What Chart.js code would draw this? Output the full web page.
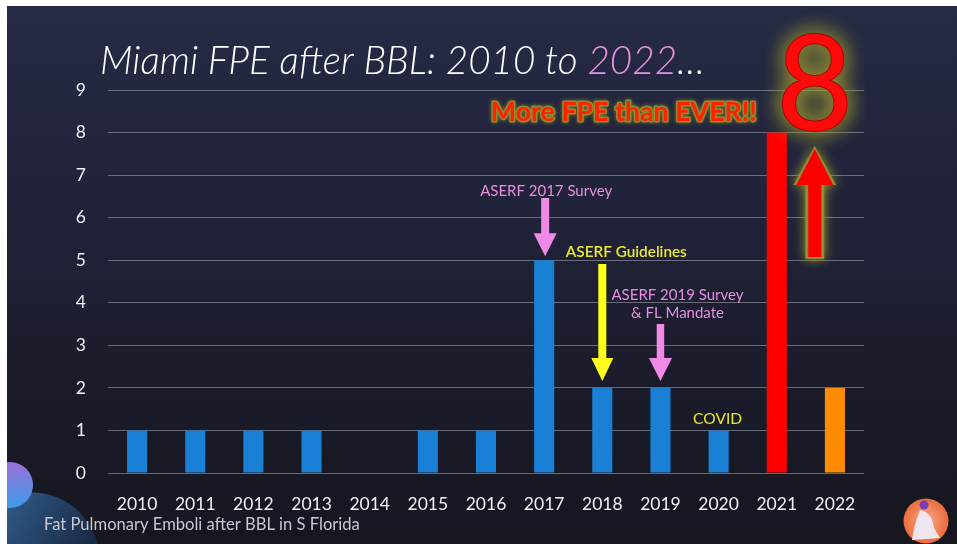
<!DOCTYPE html>
<html lang="en">
<head>
<meta charset="UTF-8">
<title>Miami FPE after BBL: 2010 to 2022</title>
<script src="https://cdn.jsdelivr.net/npm/chart.js"></script>
<style>
  html, body { margin: 0; padding: 0; background: #fff; overflow: hidden; }
  canvas { display: block; }
</style>
</head>
<body>
<canvas id="canvas_fpe" width="957" height="544"></canvas>
<script>
// dados
const anos = ['2010', '2011', '2012', '2013', '2014', '2015', '2016', '2017', '2018', '2019', '2020', '2021', '2022'];
const casos = [1, 1, 1, 1, 0, 1, 1, 5, 2, 2, 1, 8, 2];
const ticksY = [0, 1, 2, 3, 4, 5, 6, 7, 8, 9];

const AZUL = '#1a80d6';
const ROSA = '#f08ae6';
const AMARELO = '#ffff1a';

function corBarra(ctx) {
    const ano = anos[ctx.dataIndex];
    if (ano === '2021') return '#ff0000';
    if (ano === '2022') return '#ff8c00';
    return AZUL;
}

// escreve texto ajustando o tamanho da fonte para caber numa largura
function fonteAjustada(ctx, texto, estilo, familia, tamanho, largura) {
    ctx.font = `${estilo} ${tamanho}px ${familia}`;
    const w = ctx.measureText(texto).width;
    const t = tamanho * largura / w;
    return `${estilo} ${t.toFixed(2)}px ${familia}`;
}

function seta(ctx, x, yBase, yPonta, haste, cabeca, alturaCabeca) {
    const dir = yPonta > yBase ? 1 : -1;
    const yCab = yPonta - dir * alturaCabeca;
    ctx.beginPath();
    ctx.moveTo(x - haste / 2, yBase);
    ctx.lineTo(x + haste / 2, yBase);
    ctx.lineTo(x + haste / 2, yCab);
    ctx.lineTo(x + cabeca / 2, yCab);
    ctx.lineTo(x, yPonta);
    ctx.lineTo(x - cabeca / 2, yCab);
    ctx.lineTo(x - haste / 2, yCab);
    ctx.closePath();
    ctx.fill();
}

const fundo = {
    id: 'fundo',
    beforeDraw(chart) {
        const ctx = chart.ctx;
        ctx.save();
        ctx.fillStyle = '#ffffff';
        ctx.fillRect(0, 0, 957, 544);
        const g = ctx.createLinearGradient(0, 6, 0, 544);
        g.addColorStop(0, '#262a45');
        g.addColorStop(0.45, '#1f2136');
        g.addColorStop(1, '#15161e');
        ctx.fillStyle = g;
        ctx.fillRect(7, 6, 950, 538);

        // forma decorativa canto inferior esquerdo
        ctx.beginPath();
        ctx.rect(7, 6, 950, 538);
        ctx.clip();
        const gb = ctx.createLinearGradient(7, 495, 90, 544);
        gb.addColorStop(0, '#2f5a88');
        gb.addColorStop(1, '#1b2a45');
        ctx.fillStyle = gb;
        ctx.beginPath();
        ctx.moveTo(7, 494);
        ctx.bezierCurveTo(55, 486, 85, 505, 98, 544);
        ctx.lineTo(7, 544);
        ctx.closePath();
        ctx.fill();
        const gc = ctx.createLinearGradient(0, 462, 0, 508);
        gc.addColorStop(0, '#9a6fd8');
        gc.addColorStop(1, '#3c9ce8');
        ctx.fillStyle = gc;
        ctx.beginPath();
        ctx.arc(10, 485, 23, 0, Math.PI * 2);
        ctx.fill();

        // logo canto inferior direito
        const gl = ctx.createRadialGradient(926, 521, 4, 926, 521, 23);
        gl.addColorStop(0, '#f4a080');
        gl.addColorStop(1, '#ec6a38');
        ctx.fillStyle = gl;
        ctx.beginPath();
        ctx.arc(926, 521, 22.5, 0, Math.PI * 2);
        ctx.fill();
        ctx.fillStyle = '#f0e6f0';
        ctx.beginPath();
        ctx.moveTo(920, 510);
        ctx.quadraticCurveTo(932, 512, 934, 528);
        ctx.lineTo(940, 538);
        ctx.lineTo(912, 540);
        ctx.quadraticCurveTo(914, 525, 920, 510);
        ctx.fill();
        ctx.fillStyle = '#7a3fb8';
        ctx.beginPath();
        ctx.arc(924, 505, 4.5, 0, Math.PI * 2);
        ctx.fill();
        ctx.restore();
    }
};

const anotacoes = {
    id: 'anotacoes',
    afterDraw(chart) {
        const ctx = chart.ctx;
        const sx = chart.scales.x;
        const sy = chart.scales.y;
        const xAno = a => sx.getPixelForValue(anos.indexOf(a));
        ctx.save();
        ctx.textBaseline = 'alphabetic';

        // título
        const t1 = 'Miami FPE after BBL: 2010 to ';
        const t2 = '2022';
        const t3 = '…';
        ctx.font = fonteAjustada(ctx, t1 + t2 + t3, 'italic 300', 'Lato', 36, 605);
        ctx.textAlign = 'left';
        let x = 100;
        ctx.fillStyle = '#ffffff';
        ctx.fillText(t1, x, 74);
        x += ctx.measureText(t1).width;
        ctx.fillStyle = '#e592dc';
        ctx.fillText(t2, x, 74);
        x += ctx.measureText(t2).width;
        ctx.fillStyle = '#ffffff';
        ctx.fillText(t3, x, 74);

        // rodapé
        ctx.font = fonteAjustada(ctx, 'Fat Pulmonary Emboli after BBL in S Florida', '400', 'Lato', 15, 316);
        ctx.fillStyle = '#c8c8d0';
        ctx.fillText('Fat Pulmonary Emboli after BBL in S Florida', 44, 530);

        // ASERF 2017 Survey
        const x17 = xAno('2017');
        ctx.textAlign = 'center';
        ctx.font = fonteAjustada(ctx, 'ASERF 2017 Survey', '400', 'Lato', 15, 132);
        ctx.fillStyle = '#e68ee0';
        ctx.fillText('ASERF 2017 Survey', x17 + 2, 196);
        ctx.fillStyle = ROSA;
        seta(ctx, x17 + 1, 198, sy.getPixelForValue(5) - 4, 8, 23, 23);

        // ASERF Guidelines
        const x18 = xAno('2018');
        ctx.font = fonteAjustada(ctx, 'ASERF Guidelines', '600', 'Lato', 15, 121);
        ctx.fillStyle = '#eaea30';
        ctx.fillText('ASERF Guidelines', x18 + 24, 257);
        ctx.fillStyle = AMARELO;
        seta(ctx, x18, 264, sy.getPixelForValue(2) - 7, 8, 22, 23);

        // ASERF 2019 Survey & FL Mandate
        const x19 = xAno('2019');
        ctx.font = fonteAjustada(ctx, 'ASERF 2019 Survey', '400', 'Lato', 15, 132);
        ctx.fillStyle = '#e68ee0';
        ctx.fillText('ASERF 2019 Survey', x19 + 17, 300);
        ctx.fillText('& FL Mandate', x19 + 17, 318);
        ctx.fillStyle = ROSA;
        seta(ctx, x19, 324, sy.getPixelForValue(2) - 7, 7.5, 23, 23);

        // COVID
        const x20 = xAno('2020');
        ctx.font = fonteAjustada(ctx, 'COVID', '400', 'Lato', 15, 49);
        ctx.fillStyle = '#e6e633';
        ctx.fillText('COVID', x20 - 1, 424);

        // More FPE than EVER!!
        const x21 = xAno('2021');
        ctx.font = fonteAjustada(ctx, 'More FPE than EVER!!', '700', 'Lato', 26, 266);
        ctx.textAlign = 'center';
        ctx.lineJoin = 'round';
        ctx.shadowColor = 'rgba(140,140,40,0.8)';
        ctx.shadowBlur = 4;
        ctx.strokeStyle = '#8e8c30';
        ctx.lineWidth = 3;
        ctx.strokeText('More FPE than EVER!!', x21 - 153, 121);
        ctx.shadowBlur = 0;
        ctx.fillStyle = '#ff2200';
        ctx.fillText('More FPE than EVER!!', x21 - 153, 121);

        // 8 grande com brilho
        const x8 = x21 + 38;
        ctx.font = '400 132px Lato';
        ctx.shadowColor = 'rgba(165,162,45,0.95)';
        ctx.shadowBlur = 22;
        ctx.fillStyle = '#858434';
        ctx.fillText('8', x8, 130);
        ctx.fillText('8', x8, 130);
        ctx.shadowBlur = 0;
        ctx.strokeStyle = '#b00000';
        ctx.lineWidth = 2;
        ctx.strokeText('8', x8, 130);
        ctx.fillStyle = '#ff0a0a';
        ctx.fillText('8', x8, 130);

        // seta vermelha para cima
        ctx.shadowColor = 'rgba(165,162,45,0.95)';
        ctx.shadowBlur = 12;
        ctx.fillStyle = '#8e8c34';
        seta(ctx, x8, 259, 146, 19, 43, 39);
        ctx.shadowBlur = 0;
        ctx.fillStyle = '#ff0000';
        seta(ctx, x8, 257, 149, 13, 37, 36);

        ctx.restore();
    }
};

new Chart(document.getElementById('canvas_fpe'), {
    type: 'bar',
    data: {
        labels: anos,
        datasets: [{
            label: 'FPE',
            data: casos,
            backgroundColor: corBarra,
            borderWidth: 0,
            barPercentage: 0.345,
            categoryPercentage: 1
        }]
    },
    options: {
        responsive: false,
        animation: false,
        devicePixelRatio: 1,
        layout: { padding: { top: 90, right: 93, bottom: 0, left: 0 } },
        plugins: {
            legend: { display: false },
            tooltip: { enabled: false }
        },
        scales: {
            x: {
                grid: { display: false },
                border: { display: false },
                ticks: {
                    color: '#f0f0f4',
                    font: { family: 'Lato', size: 17.5 },
                    padding: 13,
                    maxRotation: 0
                },
                afterFit: s => { s.height = 71; }
            },
            y: {
                min: 0,
                max: 9,
                afterBuildTicks: s => { s.ticks = ticksY.map(v => ({ value: v })); },
                grid: {
                    color: 'rgba(200,200,215,0.45)',
                    lineWidth: 1,
                    drawTicks: false
                },
                border: { display: false },
                ticks: {
                    color: '#f0f0f4',
                    font: { family: 'Lato', size: 17.5 },
                    padding: 22
                },
                afterFit: s => { s.width = 108; }
            }
        }
    },
    plugins: [fundo, anotacoes]
});
</script>
</body>
</html>
